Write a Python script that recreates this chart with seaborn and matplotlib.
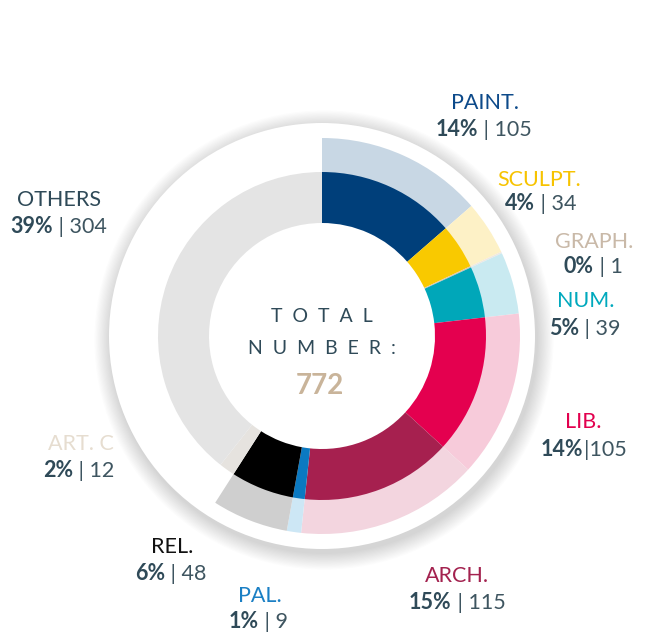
import matplotlib
matplotlib.use("Agg")
from matplotlib import pyplot as plt
from matplotlib.patches import Circle
import seaborn as sns

categories = ["PAINT.", "SCULPT.", "GRAPH.", "NUM.", "LIB.", "ARCH.", "PAL.", "REL.", "ART. C", "OTHERS"]
counts = [105, 34, 1, 39, 105, 115, 9, 48, 12, 304]
percents = ["14%", "4%", "0%", "5%", "14%", "15%", "1%", "6%", "2%", "39%"]
dark_colors = ["#003f7a", "#f9c900", "#d8c4ae", "#00a7b9", "#e4004f", "#a6204f", "#0b79c1", "#000000", "#e6e3df", "#e4e4e4"]
light_colors = ["#c8d7e4", "#fdf1c6", "#efe8e1", "#c9eaf1", "#f7cbda", "#f3d5df", "#cde7f5", "#cfcfcf", "none", "none"]
label_colors = ["#0d4a8a", "#f7c300", "#c9b9a8", "#00a9bd", "#e2004e", "#a3224f", "#1a7fc4", "#111111", "#e6ddd0", "#2f4a58"]
total = sum(counts)

# label anchors (left x, baseline y) in image pixels
label_pos = [(451, 109), (497, 186), (555, 248), (557, 307), (565, 428),
             (425, 582), (238, 602), (151, 553), (48, 450), (17, 206)]
value_pos = [(436, 136), (505, 210), (564, 273), (549, 335), (541, 456),
             (409, 609), (229, 628), (135, 580), (43, 477), (10, 233)]

sns.set_theme(style="white")
plt.rcParams["font.family"] = ["Lato", "DejaVu Sans"]

W, H = 650, 636
fig = plt.figure(figsize=(6.5, 6.36), dpi=100)
ax = fig.add_axes([0, 0, 1, 1])
ax.set_xlim(0, W)
ax.set_ylim(0, H)
ax.set_aspect("equal")
ax.axis("off")

cx, cy = 322, H - 336

# soft shadow + white backing disc
for k in range(14):
    ax.add_patch(Circle((cx + 2, cy - 4), 214 + k * 1.2, color="#000000", alpha=0.012, lw=0, zorder=0))
ax.add_patch(Circle((cx, cy), 213, color="white", lw=0, zorder=1))

wedges, _ = ax.pie(counts, colors=light_colors, radius=198, center=(cx, cy),
                   startangle=90, counterclock=False,
                   wedgeprops=dict(width=36, linewidth=0))
for w in wedges:
    w.set_zorder(2)
wedges, _ = ax.pie(counts, colors=dark_colors, radius=164, center=(cx, cy),
                   startangle=90, counterclock=False,
                   wedgeprops=dict(width=51, linewidth=0))
for w in wedges:
    w.set_zorder(3)
ax.set_xlim(0, W)
ax.set_ylim(0, H)

dark = "#2f4a58"
fs = 15.5
for i, name in enumerate(categories):
    lx, ly = label_pos[i]
    ax.text(lx, H - ly, name, color=label_colors[i], fontsize=fs, ha="left", va="baseline", zorder=5)
    vx, vy = value_pos[i]
    t = ax.text(vx, H - vy, percents[i], color=dark, fontsize=fs, fontweight="bold",
                ha="left", va="baseline", zorder=5)
    sep = "|" if name == "LIB." else " | "
    ax.annotate(sep + str(counts[i]), xy=(1, 0), xycoords=t, color="#3e5560", fontsize=fs,
                fontweight="normal", ha="left", va="bottom", zorder=5)

ax.text(cx, H - 317, "T  O  T  A  L", color=dark, fontsize=14, ha="center", va="center", zorder=5)
ax.text(cx, H - 349, "N  U  M  B  E  R  :", color=dark, fontsize=14, ha="center", va="center", zorder=5)
ax.text(cx - 2, H - 386, str(total), color="#c9b49a", fontsize=20, fontweight="bold",
        ha="center", va="center", zorder=5)

fig.savefig("out.png", dpi=100, facecolor="white")
